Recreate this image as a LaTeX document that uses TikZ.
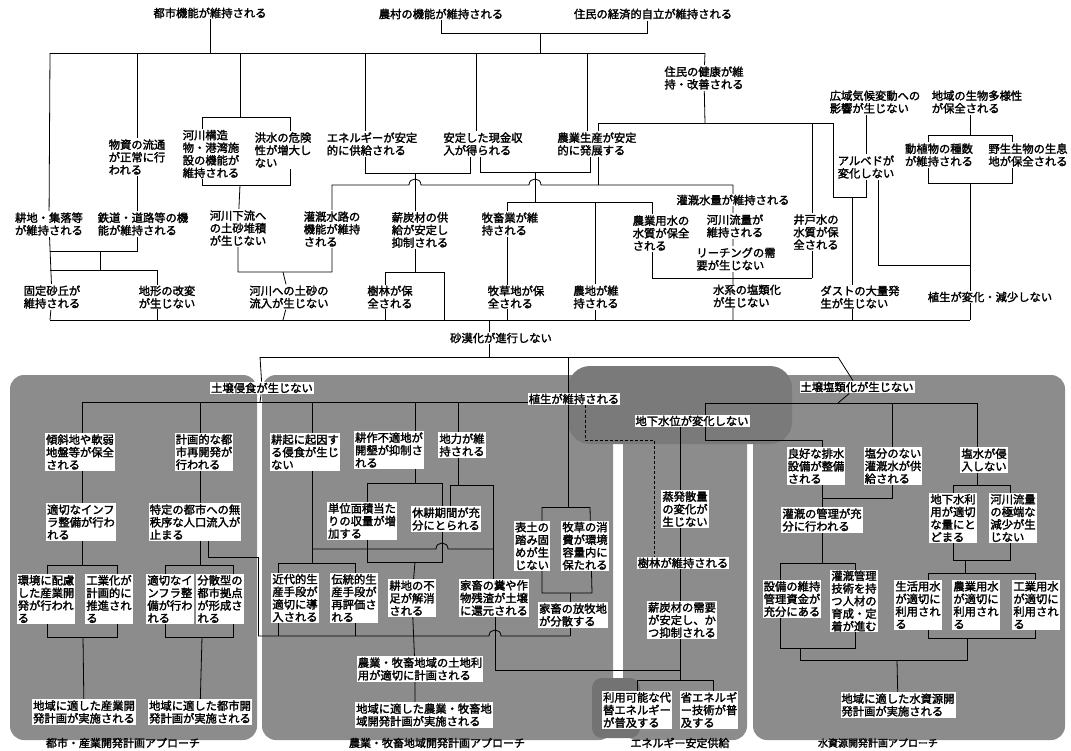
\documentclass[tikz,border=0pt]{standalone}
\usepackage{fontspec}
\setmainfont{Noto Sans CJK JP}[FakeBold=2]
\usetikzlibrary{positioning}
\pgfdeclarelayer{shade}
\pgfdeclarelayer{lines}
\pgfsetlayers{shade,lines,main}

\tikzset{
  lbl/.style={fill=white, inner sep=1pt, align=left, font=\fontsize{11.3}{12.6}\selectfont},
  link/.style={line width=0.8pt},
  zone/.style={fill=black!45, rounded corners=14pt},
  zonename/.style={font=\fontsize{11}{12}\selectfont},
}

\begin{document}
\begin{tikzpicture}[x=1pt, y=-1pt]
  \useasboundingbox (0,0) rectangle (1071,750);

  % --- upper half: goals ---
  \node[lbl] (toshi) at (210,13) {都市機能が維持される};
  \node[lbl] (noson) at (441,14) {農村の機能が維持される};
  \node[lbl] (keizai) at (653,14) {住民の経済的自立が維持される};
  \node[lbl] (kenko) at (704,78) {住民の健康が維\\持・改善される};
  \node[lbl] (busshi) at (137,157) {物資の流通\\が正常に行\\われる};
  \node[lbl] (kasenkozo) at (211,154) {河川構造\\物・港湾施\\設の機能が\\維持される};
  \node[lbl] (kozui) at (283,150) {洪水の危険\\性が増大し\\ない};
  \node[lbl] (energy) at (372,144) {エネルギーが安定\\的に供給される};
  \node[lbl] (genkin) at (483,144) {安定した現金収\\入が得られる};
  \node[lbl] (nogyo) at (597,144) {農業生産が安定\\的に発展する};
  \node[lbl] (kiko) at (875,102) {広域気候変動への\\影響が生じない};
  \node[lbl] (tayosei) at (977,102) {地域の生物多様性\\が保全される};
  \node[lbl] (albedo) at (866,167) {アルベドが\\変化しない};
  \node[lbl] (shusu) at (939,155) {動植物の種数\\が維持される};
  \node[lbl] (seisoku) at (1028,155) {野生生物の生息\\地が保全される};
  \node[lbl] (kochi) at (49,224) {耕地・集落等\\が維持される};
  \node[lbl] (tetsudo) at (143,224) {鉄道・道路等の機\\能が維持される};
  \node[lbl] (karyu) at (238,228) {河川下流へ\\の土砂堆積\\が生じない};
  \node[lbl] (kangaisuiro) at (332,229) {灌漑水路の\\機能が維持\\される};
  \node[lbl] (shintan) at (420,230) {薪炭材の供\\給が安定し\\抑制される};
  \node[lbl] (bochiku) at (510,224) {牧畜業が維\\持される};
  \node[lbl] (nogyoyosui) at (661,233) {農業用水の\\水質が保全\\される};
  \node[lbl] (kangaisuiryo) at (733,200) {灌漑水量が維持される};
  \node[lbl] (kasenryuryo) at (735,226) {河川流量が\\維持される};
  \node[lbl] (leaching) at (736,259) {リーチングの需\\要が生じない};
  \node[lbl] (ido) at (816,232) {井戸水の\\水質が保\\全される};
  \node[lbl] (kotei) at (52,297) {固定砂丘が\\維持される};
  \node[lbl] (chikei) at (167,297) {地形の改変\\が生じない};
  \node[lbl] (dosha) at (289,297) {河川への土砂の\\流入が生じない};
  \node[lbl] (jurin) at (390,297) {樹林が保\\全される};
  \node[lbl] (bokusochi) at (516,297) {牧草地が保\\全される};
  \node[lbl] (nochi) at (596,297) {農地が維\\持される};
  \node[lbl] (ensui) at (747,296) {水系の塩類化\\が生じない};
  \node[lbl] (dust) at (860,297) {ダストの大量発\\生が生じない};
  \node[lbl] (shokuhen) at (990,297) {植生が変化・減少しない};
  \node[lbl] (sabaku) at (501,338) {砂漠化が進行しない};

  % --- lower half: approaches ---
  \node[lbl] (shinshoku) at (262,388) {土壌侵食が生じない};
  \node[lbl] (shokusei) at (574,399) {植生が維持される};
  \node[lbl] (chikasui) at (692,421) {地下水位が変化しない};
  \node[lbl] (enrui) at (857,387) {土壌塩類化が生じない};
  \node[lbl] (keisha) at (80,452) {傾斜地や軟弱\\地盤等が保全\\される};
  \node[lbl] (keikaku) at (204,452) {計画的な都\\市再開発が\\行われる};
  \node[lbl] (koki) at (305,452) {耕起に起因す\\る侵食が生じ\\ない};
  \node[lbl] (futeki) at (389,450) {耕作不適地が\\開墾が抑制さ\\れる};
  \node[lbl] (chiryoku) at (462,445) {地力が維\\持される};
  \node[lbl] (infra) at (81,522) {適切なインフ\\ラ整備が行わ\\れる};
  \node[lbl] (tokutei) at (195,522) {特定の都市への無\\秩序な人口流入が\\止まる};
  \node[lbl] (tanni) at (362,521) {単位面積当た\\りの収量が増\\加する};
  \node[lbl] (kyuko) at (446,519) {休耕期間が充\\分にとられる};
  \node[lbl] (hyodo) at (532,546) {表土の\\踏み固\\めが生\\じない};
  \node[lbl] (bokuso) at (585,546) {牧草の消\\費が環境\\容量内に\\保たれる};
  \node[lbl] (jouhatsu) at (685,509) {蒸発散量\\の変化が\\生じない};
  \node[lbl] (jurinij) at (683,563) {樹林が維持される};
  \node[lbl] (kankyo) at (46,599) {環境に配慮\\した産業開\\発が行われ\\る};
  \node[lbl] (kogyo) at (109,599) {工業化が\\計画的に\\推進され\\る};
  \node[lbl] (infrb) at (170,599) {適切なイ\\ンフラ整\\備が行わ\\れる};
  \node[lbl] (bunsan) at (220,599) {分散型の\\都市拠点\\が形成さ\\れる};
  \node[lbl] (kindai) at (295,598) {近代的生\\産手段が\\適切に導\\入される};
  \node[lbl] (dento) at (354,598) {伝統的生\\産手段が\\再評価さ\\れる};
  \node[lbl] (fusoku) at (412,598) {耕地の不\\足が解消\\される};
  \node[lbl] (fun) at (494,598) {家畜の糞や作\\物残渣が土壌\\に還元される};
  \node[lbl] (hoboku) at (573,615) {家畜の放牧地\\が分散する};
  \node[lbl] (shintanjuyo) at (682,620) {薪炭材の需要\\が安定し、か\\つ抑制される};
  \node[lbl] (haisui) at (816,466) {良好な排水\\設備が整備\\される};
  \node[lbl] (ensuibun) at (893,466) {塩分のない\\灌漑水が供\\給される};
  \node[lbl] (shinnyu) at (984,460) {塩水が侵\\入しない};
  \node[lbl] (kanri) at (822,520) {灌漑の管理が充\\分に行われる};
  \node[lbl] (chikariyo) at (953,518) {地下水利\\用が適切\\な量にと\\どまる};
  \node[lbl] (kyokutan) at (1013,518) {河川流量\\の極端な\\減少が生\\じない};
  \node[lbl] (shikin) at (792,599) {設備の維持\\管理資金が\\充分にある};
  \node[lbl] (jinzai) at (854,601) {灌漑管理\\技術を持\\つ人材の\\育成・定\\着が進む};
  \node[lbl] (seikatsu) at (918,605) {生活用水\\が適切に\\利用され\\る};
  \node[lbl] (nogyoyo) at (976,605) {農業用水\\が適切に\\利用され\\る};
  \node[lbl] (kogyoyo) at (1036,605) {工業用水\\が適切に\\利用され\\る};
  \node[lbl] (tochiriyo) at (420,669) {農業・牧畜地域の土地利\\用が適切に計画される};
  \node[lbl] (daitai) at (637,710) {利用可能な代\\替エネルギー\\が普及する};
  \node[lbl] (shoene) at (709,710) {省エネルギ\\ー技術が普\\及する};
  \node[lbl] (plana) at (84,712) {地域に適した産業開\\発計画が実施される};
  \node[lbl] (planb) at (200,712) {地域に適した都市開\\発計画が実施される};
  \node[lbl] (planc) at (424,715) {地域に適した農業・牧畜地\\域開発計画が実施される};
  \node[lbl] (pland) at (898,705) {地域に適した水資源開\\発計画が実施される};

  \node[zonename] (za) at (123,743) {都市・産業開発計画アプローチ};
  \node[zonename] (zb) at (437,743) {農業・牧畜地域開発計画アプローチ};
  \node[zonename] (zc) at (680,743) {エネルギー安定供給};
  \node[zonename, font=\fontsize{10}{11}\selectfont] (zd) at (878,743) {水資源開発計画アプローチ};

  \begin{pgfonlayer}{shade}
    \fill[zone] (10,375) rectangle (257,740);
    \fill[zone] (262,375) rectangle (613,740);
    \fill[zone] (753,375) rectangle (1065,740);
    \fill[zone] (623,420) rectangle (747,740);
    \fill[zone, fill=black!52, rounded corners=22pt] (568,366) rectangle (792,444);
    \fill[zone, fill=black!55, rounded corners=10pt] (592,678) rectangle (640,738);
  \end{pgfonlayer}

  \begin{pgfonlayer}{lines}
    % top goals
    \draw[link] (toshi) -- (210,53);
    \draw[link] (noson) |- (647,33) -- (647,21);
    \draw[link] (540,33) -- (540,53);
    \draw[link] (50,53) -- (705,53);
    \draw[link] (50,53) -- (kochi) -- (kotei) -- (50,320);
    \draw[link] (137,53) -- (137,251) -- (50,251);
    \draw[link] (100,251) -- (100,270);
    \draw[link] (50,270) -| (157,320);
    \draw[link] (240,53) -- (240,117);
    \draw[link] (202,117) rectangle (290,185);
    \draw[link] (240,185) -- (karyu) |- (332,272);
    \draw[link] (283,272) -- (dosha) -- (283,320);
    \draw[link] (332,272) -- (kangaisuiro) -- (332,185) -- (409,185)
      .. controls (409,177) and (421,177) .. (421,185) -- (529,185)
      .. controls (529,177) and (541,177) .. (541,185) -- (733,185) -- (733,320);
    \draw[link] (365,53) -- (365,173) -- (470,173) -- (470,150);
    \draw[link] (476,53) -- (476,140);
    \draw[link] (415,173) -- (415,272);
    \draw[link] (385,272) -- (444,272) -- (444,320);
    \draw[link] (385,272) -- (385,320);
    \draw[link] (587,53) -- (587,140);
    \draw[link] (480,150) -- (480,172) -- (590,172) -- (590,150);
    \draw[link] (535,172) -- (535,202);
    \draw[link] (507,202) -- (652,202) -- (652,278) -- (812,278);
    \draw[link] (507,202) -- (507,320);
    \draw[link] (595,202) -- (595,320);
    \draw[link] (705,53) -- (kenko) -- (705,123);
    \draw[link] (598,185) -- (598,123) -- (833,123) -- (833,197) -- (866,197) -- (866,102);
    \draw[link] (812,123) -- (812,278);
    \draw[link] (852,197) -- (852,320);
    \draw[link] (878,170) -- (878,265) -- (970,265);
    \draw[link] (970,102) -- (970,135);
    \draw[link] (928,135) rectangle (1012,183);
    \draw[link] (970,183) -- (970,320);
    \draw[link] (50,320) -- (970,320);
    \draw[link] (489,320) -- (489,357);
    \draw[link] (260,357) -- (838,357);
    % lower approaches
    \draw[link] (260,357) -- (shinshoku) -- (260,402);
    \draw[link] (568,357) -- (568,507);
    \draw[link] (82,402) -- (574,402);
    \draw[link] (82,402) -- (82,565);
    \draw[link] (200,402) -- (200,565);
    \draw[link] (312,402) -- (312,563);
    \draw[link] (415,402) -- (415,483);
    \draw[link] (458,402) -- (458,485);
    \draw[link] (47,565) rectangle (117,637);
    \draw[link] (83,637) -- (plana);
    \draw[link] (165,565) rectangle (233,637);
    \draw[link] (202,637) -- (planb);
    \draw[link] (208,540) -- (208,557) -- (258,557) -- (258,636);
    \draw[link] (278,563) -- (355,563);
    \draw[link] (278,563) -- (278,636);
    \draw[link] (355,563) -- (355,636);
    \draw[link] (258,636) -- (489,636) .. controls (489,628) and (501,628) .. (501,636) -- (570,636);
    \draw[link] (312,549) -- (436,549) .. controls (436,541) and (448,541) .. (448,549) -- (493,549);
    \draw[link] (367,483) -- (442,483);
    \draw[link] (450,485) -- (493,485) -- (493,582);
    \draw[link] (367,483) -- (367,562) -- (442,562) -- (442,483);
    \draw[link] (450,485) -- (450,515);
    \draw[link] (415,562) -- (fusoku) -- (415,669) -- (415,715);
    \draw[link] (495,615) -- (495,670) -- (680,670);
    \draw[link] (542,507) -- (590,507);
    \draw[link] (542,507) -- (542,593) -- (592,593) -- (590,507);
    \draw[link] (570,593) -- (570,636);
    \draw[link, densely dashed] (585,405) -- (585,440) -- (654,440) -- (654,563);
    \draw[link] (680,421) -- (680,680);
    \draw[link] (637,680) -- (713,680);
    \draw[link] (637,680) -- (daitai);
    \draw[link] (713,680) -- (713,700);
    \draw[link] (838,357) -- (enrui) -- (838,403);
    \draw[link] (705,403) -- (977,403);
    \draw[link] (705,403) -- (705,440) -- (822,440) -- (822,563);
    \draw[link] (892,403) -- (892,498) -- (822,498);
    \draw[link] (977,403) -- (977,485);
    \draw[link] (953,485) rectangle (1010,560);
    \draw[link] (965,560) -- (965,573);
    \draw[link] (928,573) rectangle (1035,638);
    \draw[link] (780,563) rectangle (855,648);
    \draw[link] (800,648) -- (800,660) -- (967,660) -- (967,638);
    \draw[link] (897,660) -- (pland);
  \end{pgfonlayer}
\end{tikzpicture}
\end{document}
